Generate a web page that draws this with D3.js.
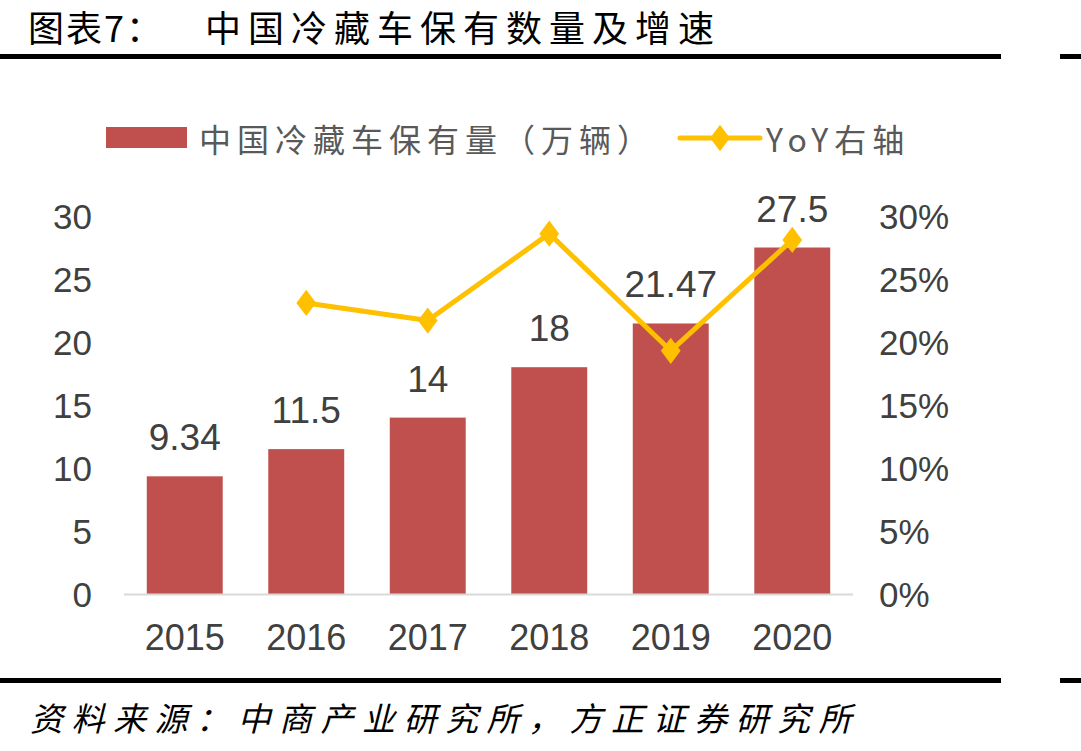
<!DOCTYPE html>
<html>
<head>
<meta charset="utf-8">
<script src="https://cdn.jsdelivr.net/npm/d3@7"></script>
<style>
  body { margin: 0; background: #fff; }
  svg { display: block; }
</style>
</head>
<body>
<div id="chart"></div>
<script>
const years = ['2015', '2016', '2017', '2018', '2019', '2020'];
const fleet = [9.34, 11.5, 14, 18, 21.47, 27.5];
const fleetLabels = ['9.34', '11.5', '14', '18', '21.47', '27.5'];
const yoy = [null, 23.1, 21.7, 28.6, 19.3, 28.1];
const leftTicks = [0, 5, 10, 15, 20, 25, 30];
const rightTicks = [0, 5, 10, 15, 20, 25, 30];

const W = 1081, H = 751;
const cjk = '"Noto Sans CJK SC", sans-serif';
const latin = 'Arial, "Liberation Sans", sans-serif';

const svg = d3.select('#chart').append('svg')
  .attr('width', W).attr('height', H);

// title and rules
svg.append('text')
  .attr('x', 28).attr('y', 42)
  .attr('font-family', cjk).attr('font-size', 36)
  .attr('letter-spacing', 2)
  .attr('fill', '#000')
  .text('图表7：');
svg.append('text')
  .attr('x', 205).attr('y', 42)
  .attr('font-family', cjk).attr('font-size', 36)
  .attr('letter-spacing', 7)
  .attr('fill', '#000')
  .text('中国冷藏车保有数量及增速');

svg.append('rect').attr('x', 0).attr('y', 54).attr('width', 1001).attr('height', 5).attr('fill', '#000');
svg.append('rect').attr('x', 1060).attr('y', 54).attr('width', 21).attr('height', 5).attr('fill', '#000');
svg.append('rect').attr('x', 0).attr('y', 678).attr('width', 1001).attr('height', 5).attr('fill', '#000');
svg.append('rect').attr('x', 1060).attr('y', 678).attr('width', 21).attr('height', 5).attr('fill', '#000');

svg.append('text')
  .attr('x', 30).attr('y', 731)
  .attr('font-family', cjk).attr('font-size', 33)
  .attr('font-style', 'italic')
  .attr('letter-spacing', 8.5)
  .attr('fill', '#000')
  .text('资料来源：中商产业研究所，方正证券研究所');

// scales
const x = d3.scaleBand().domain(years).range([124, 853]).paddingInner(0.375).paddingOuter(0.1875);
const y = d3.scaleLinear().domain([0, 30]).range([594, 216]);
const y2 = d3.scaleLinear().domain([0, 30]).range([594, 216]);

// left axis labels
svg.append('g').selectAll('text').data(leftTicks).enter().append('text')
  .attr('x', 92).attr('y', d => y(d))
  .attr('text-anchor', 'end').attr('dominant-baseline', 'central')
  .attr('font-family', latin).attr('font-size', 35).attr('fill', '#404040')
  .text(d => d);

// right axis labels
svg.append('g').selectAll('text').data(rightTicks).enter().append('text')
  .attr('x', 879).attr('y', d => y2(d))
  .attr('text-anchor', 'start').attr('dominant-baseline', 'central')
  .attr('font-family', latin).attr('font-size', 35).attr('fill', '#404040')
  .text(d => d + '%');

// bars
svg.append('g').selectAll('rect').data(fleet).enter().append('rect')
  .attr('x', (d, i) => x(years[i]))
  .attr('y', d => y(d))
  .attr('width', x.bandwidth())
  .attr('height', d => y(0) - y(d))
  .attr('fill', '#c0504d');

// baseline
svg.append('line')
  .attr('x1', 124).attr('x2', 853).attr('y1', y(0) + 0.5).attr('y2', y(0) + 0.5)
  .attr('stroke', '#d9d9d9').attr('stroke-width', 2);

// bar value labels
svg.append('g').selectAll('text').data(fleet).enter().append('text')
  .attr('x', (d, i) => x(years[i]) + x.bandwidth() / 2)
  .attr('y', d => y(d) - 26)
  .attr('text-anchor', 'middle')
  .attr('font-family', latin).attr('font-size', 37).attr('fill', '#404040')
  .text((d, i) => fleetLabels[i]);

// year labels
svg.append('g').selectAll('text').data(years).enter().append('text')
  .attr('x', d => x(d) + x.bandwidth() / 2)
  .attr('y', 637)
  .attr('text-anchor', 'middle').attr('dominant-baseline', 'central')
  .attr('font-family', latin).attr('font-size', 36).attr('fill', '#404040')
  .text(d => d);

// YoY line
const pts = yoy.map((v, i) => ({ year: years[i], v })).filter(d => d.v !== null);
const line = d3.line()
  .x(d => x(d.year) + x.bandwidth() / 2)
  .y(d => y2(d.v));

svg.append('path')
  .datum(pts)
  .attr('d', line)
  .attr('fill', 'none')
  .attr('stroke', '#ffc000')
  .attr('stroke-width', 5)
  .attr('stroke-linejoin', 'round');

const diamond = d3.symbol().type(d3.symbolDiamond).size(200);
svg.append('g').selectAll('path').data(pts).enter().append('path')
  .attr('d', diamond)
  .attr('transform', d => `translate(${x(d.year) + x.bandwidth() / 2},${y2(d.v)}) scale(1.3,1)`)
  .attr('fill', '#ffc000');

// legend
const lg = svg.append('g');
lg.append('rect').attr('x', 106).attr('y', 127).attr('width', 81).attr('height', 21).attr('fill', '#c0504d');
lg.append('text')
  .attr('x', 199).attr('y', 138)
  .attr('dominant-baseline', 'central')
  .attr('font-family', cjk).attr('font-size', 32).attr('fill', '#595959')
  .attr('letter-spacing', 6)
  .text('中国冷藏车保有量（万辆）');
lg.append('line')
  .attr('x1', 680).attr('x2', 760).attr('y1', 138).attr('y2', 138)
  .attr('stroke', '#ffc000').attr('stroke-width', 5).attr('stroke-linecap', 'round');
lg.append('path')
  .attr('d', diamond)
  .attr('transform', 'translate(720,138) scale(1.3,1)')
  .attr('fill', '#ffc000');
lg.append('text')
  .attr('x', 766).attr('y', 138)
  .attr('dominant-baseline', 'central')
  .attr('font-family', cjk).attr('font-size', 32).attr('fill', '#595959')
  .attr('letter-spacing', 6)
  .text('YoY右轴');
</script>
</body>
</html>
